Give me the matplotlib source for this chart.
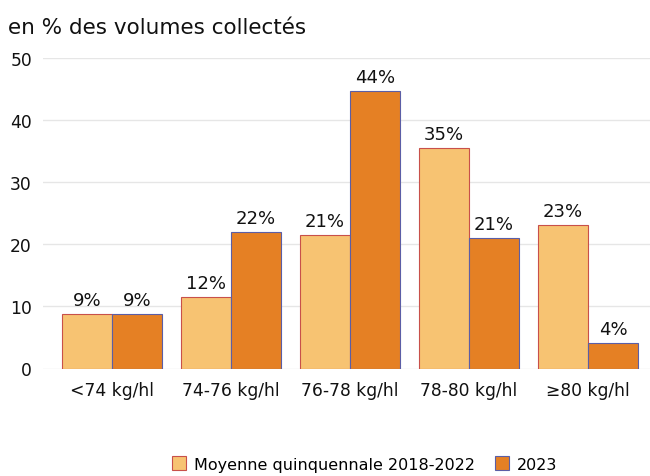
import numpy as np
import matplotlib
matplotlib.use("Agg")
import matplotlib.pyplot as plt

plt.rcParams["font.family"] = ["DejaVu Sans"]

categories = ["<74 kg/hl", "74-76 kg/hl", "76-78 kg/hl", "78-80 kg/hl", "≥80 kg/hl"]
moyenne = [8.8, 11.5, 21.4, 35.5, 23.1]
annee_2023 = [8.8, 21.9, 44.6, 21.0, 4.1]
labels_moy = ["9%", "12%", "21%", "35%", "23%"]
labels_2023 = ["9%", "22%", "44%", "21%", "4%"]

fig = plt.figure(figsize=(6.5, 4.77), dpi=100)
ax = fig.add_axes([43 / 650, 1 - 369.5 / 477, 1 - 43 / 650, (369.5 - 58.5) / 477])

x = np.arange(len(categories))
w = 0.42
b1 = ax.bar(x - w / 2, moyenne, w, color="#F7C372", edgecolor="#C8504A", linewidth=0.8,
            label="Moyenne quinquennale 2018-2022", zorder=3)
b2 = ax.bar(x + w / 2, annee_2023, w, color="#E58024", edgecolor="#5B5EA6", linewidth=0.8,
            label="2023", zorder=3)

for rect, lab in zip(b1, labels_moy):
    ax.text(rect.get_x() + rect.get_width() / 2, rect.get_height() + 0.8, lab,
            ha="center", va="bottom", fontsize=13, color="#111111", clip_on=False)
for rect, lab in zip(b2, labels_2023):
    ax.text(rect.get_x() + rect.get_width() / 2, rect.get_height() + 0.8, lab,
            ha="center", va="bottom", fontsize=13, color="#111111", clip_on=False)

ax.set_ylim(0, 50)
ax.set_xlim(-0.58, 4.52)
ax.set_yticks([0, 10, 20, 30, 40, 50])
ax.set_xticks(x)
ax.set_xticklabels(categories)
ax.tick_params(axis="both", length=0, labelsize=12.3, colors="#111111")
ax.tick_params(axis="y", pad=8)
ax.tick_params(axis="x", pad=9)
ax.grid(axis="y", color="#E6E6E6", linewidth=1, zorder=0)
for s in ax.spines.values():
    s.set_visible(False)

fig.text(8 / 650, 1 - 28 / 477, "en % des volumes collectés", fontsize=15.5,
         ha="left", va="center", color="#111111")

fig.legend(handles=[b1, b2], loc="center", bbox_to_anchor=(0.561, 1 - 465 / 477), ncol=2,
           frameon=False, fontsize=11.5, handlelength=0.9, handleheight=0.9,
           columnspacing=1.2, handletextpad=0.5)

fig.savefig("out.png", dpi=100)
